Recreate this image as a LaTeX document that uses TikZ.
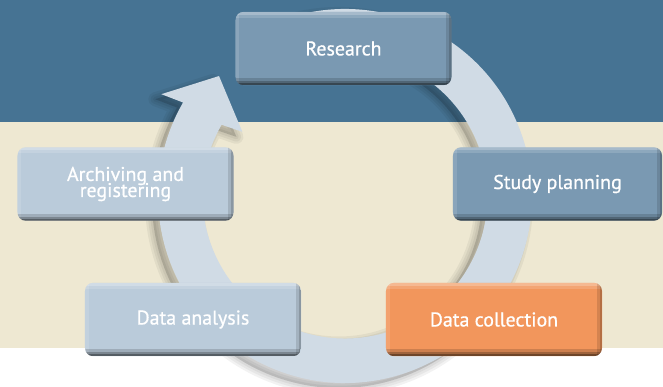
\documentclass[tikz,border=0pt]{standalone}
\usepackage{fontspec}
\setmainfont{PT Sans}
\newfontfamily\stagefamily{PT Sans}[FakeBold=0.7]
\newcommand{\stagefont}{\stagefamily\fontsize{17}{13.7}\selectfont\lineskiplimit=-20pt\relax}
\usetikzlibrary{positioning}

\definecolor{bandblue}{RGB}{70,115,147}
\definecolor{sand}{RGB}{238,232,210}
\definecolor{ringblue}{RGB}{208,219,229}
\definecolor{steel}{RGB}{122,153,178}
\definecolor{mist}{RGB}{186,203,218}
\definecolor{apricot}{RGB}{242,150,92}

% the circular arrow, drawn round (0,0) with angles counted the usual way
\newcommand{\cyclepath}{%
  (110:187) arc[start angle=110, end angle=-210, radius=187]
  -- (151:210) -- (136.4:174) -- (148:121) -- (150:142.5)
  arc[start angle=-210, end angle=110, radius=142.5] -- cycle}

\begin{document}
\begin{tikzpicture}[x=0.03cm, y=-0.03cm,
    bevel/.style={path picture={
        \begin{scope}[sharp corners]
          \fill[white, opacity=.22] (path picture bounding box.north west) rectangle ([yshift=-2.5pt]path picture bounding box.north east);
          \fill[white, opacity=.15] (path picture bounding box.north west) rectangle ([yshift=-5pt]path picture bounding box.north east);
          \fill[white, opacity=.12] (path picture bounding box.north west) rectangle ([xshift=3pt]path picture bounding box.south west);
          \fill[black, opacity=.12] ([xshift=-4.5pt]path picture bounding box.south east) rectangle (path picture bounding box.north east);
          \fill[black, opacity=.15] ([xshift=-2pt]path picture bounding box.south east) rectangle (path picture bounding box.north east);
          \fill[black, opacity=.15] ([yshift=6pt]path picture bounding box.south west) rectangle (path picture bounding box.south east);
          \fill[black, opacity=.22] ([yshift=3.5pt]path picture bounding box.south west) rectangle (path picture bounding box.south east);
          \fill[black, opacity=.3] ([yshift=1.5pt]path picture bounding box.south west) rectangle (path picture bounding box.south east);
        \end{scope}}},
    stage/.style={bevel, rounded corners=7pt, minimum width=6.48cm, minimum height=2.2cm,
      inner sep=0pt, text=white, align=center, font=\stagefont},
  ]

    \useasboundingbox (0,0) rectangle (663,386);

    % background bands
    \fill[bandblue] (0,0) rectangle (663,122);
    \fill[sand] (0,122) rectangle (663,348);

    % circular arrow with a soft shadow to the lower left
    \begin{scope}[shift={(345,196)}, yscale=-1]
        \foreach \w in {12,8,4}
            \filldraw[black, opacity=.05, line width=\w pt, line join=round, shift={(-6,-5)}] \cyclepath;
        \fill[ringblue] \cyclepath;
    \end{scope}

    % stages of the cycle
    \node[stage, fill=steel] (research) at (343.5,48.5) {Research};
    \node[stage, fill=steel, minimum width=6.27cm] (planning) at (557.5,184) {Study planning};
    \node[stage, fill=apricot] (collection) at (494,319.5) {Data collection};
    \node[stage, fill=mist] (analysis) at (193,319.5) {Data analysis};
    \node[stage, fill=mist] (archive) at (125.5,184) {Archiving and\\registering};

\end{tikzpicture}
\end{document}
